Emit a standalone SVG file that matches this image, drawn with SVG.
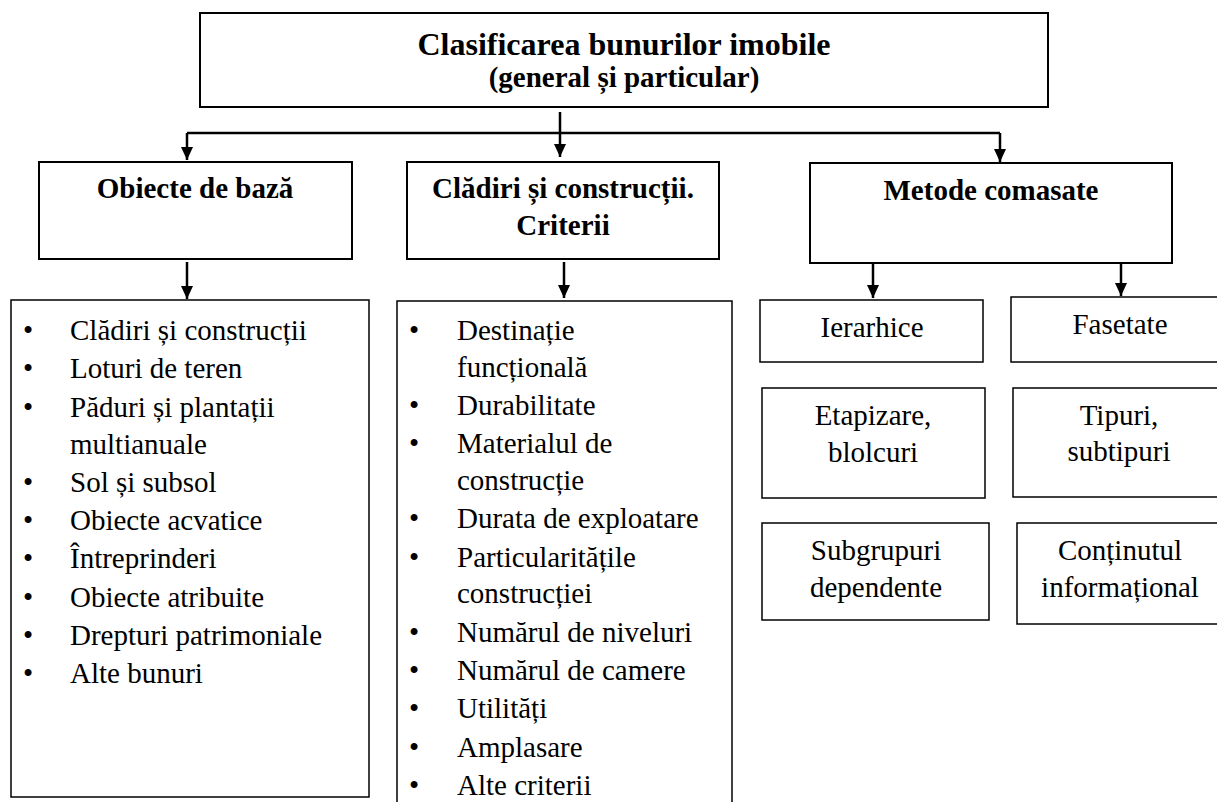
<svg xmlns="http://www.w3.org/2000/svg" width="1217" height="802" viewBox="0 0 1217 802">
<style>
  .box { fill: #fff; stroke: #000; stroke-width: 1.5; }
  .hbox { fill: #fff; stroke: #000; stroke-width: 2; }
  text { font-family: 'Liberation Serif', 'Times New Roman', Times, 'DejaVu Serif', serif; font-size: 29px; fill: #000; }
  .b { font-weight: bold; text-anchor: middle; }
  .c { text-anchor: middle; }
  .ln { stroke: #000; stroke-width: 2.5; fill: none; }
</style>
<defs>
  <marker id="ah" viewBox="0 0 13 12" refX="13" refY="6" markerWidth="13" markerHeight="12" markerUnits="userSpaceOnUse" orient="auto">
    <path d="M0,0 L13,6 L0,12 z" fill="#000"/>
  </marker>
</defs>
<rect width="1217" height="802" fill="#fff"/>

<g id="connectors">
  <line class="ln" x1="560" y1="112" x2="560" y2="157" marker-end="url(#ah)"/>
  <line class="ln" x1="187" y1="133" x2="1000" y2="133"/>
  <line class="ln" x1="187" y1="133" x2="187" y2="160" marker-end="url(#ah)"/>
  <line class="ln" x1="1000" y1="133" x2="1000" y2="162" marker-end="url(#ah)"/>
  <line class="ln" x1="187" y1="262" x2="187" y2="299" marker-end="url(#ah)"/>
  <line class="ln" x1="564" y1="262" x2="564" y2="298" marker-end="url(#ah)"/>
  <line class="ln" x1="873" y1="264" x2="873" y2="298" marker-end="url(#ah)"/>
  <line class="ln" x1="1121" y1="264" x2="1121" y2="296" marker-end="url(#ah)"/>
</g>

<g id="root">
  <rect class="hbox" x="200" y="13" width="848" height="94"/>
  <text class="b" x="624" y="55" style="font-size:32px">Clasificarea bunurilor imobile</text>
  <text class="b" x="624" y="87">(general și particular)</text>
</g>

<g id="obiecte">
  <rect class="hbox" x="39" y="162" width="313" height="97"/>
  <text class="b" x="195" y="198">Obiecte de bază</text>
</g>

<g id="cladiri">
  <rect class="hbox" x="407" y="162" width="312" height="97"/>
  <text class="b" x="563" y="198">Clădiri și construcții.</text>
  <text class="b" x="563" y="235">Criterii</text>
</g>

<g id="metode">
  <rect class="hbox" x="810" y="163" width="362" height="100"/>
  <text class="b" x="991" y="200">Metode comasate</text>
</g>

<g id="lista-obiecte">
  <rect class="box" x="11" y="300" width="358" height="497"/>
  <text x="23" y="340">•</text><text x="70" y="340">Clădiri și construcții</text>
  <text x="23" y="378">•</text><text x="70" y="378">Loturi de teren</text>
  <text x="23" y="417">•</text><text x="70" y="417">Păduri și plantații</text>
  <text x="70" y="454">multianuale</text>
  <text x="23" y="492">•</text><text x="70" y="492">Sol și subsol</text>
  <text x="23" y="530">•</text><text x="70" y="530">Obiecte acvatice</text>
  <text x="23" y="568">•</text><text x="70" y="568">Întreprinderi</text>
  <text x="23" y="607">•</text><text x="70" y="607">Obiecte atribuite</text>
  <text x="23" y="645">•</text><text x="70" y="645">Drepturi patrimoniale</text>
  <text x="23" y="683">•</text><text x="70" y="683">Alte bunuri</text>
</g>

<g id="lista-criterii">
  <rect class="box" x="397" y="301" width="335" height="510"/>
  <text x="409" y="340">•</text><text x="457" y="340">Destinație</text>
  <text x="457" y="377">funcțională</text>
  <text x="409" y="415">•</text><text x="457" y="415">Durabilitate</text>
  <text x="409" y="453">•</text><text x="457" y="453">Materialul de</text>
  <text x="457" y="490">construcție</text>
  <text x="409" y="528">•</text><text x="457" y="528">Durata de exploatare</text>
  <text x="409" y="567">•</text><text x="457" y="567">Particularitățile</text>
  <text x="457" y="603">construcției</text>
  <text x="409" y="642">•</text><text x="457" y="642">Numărul de niveluri</text>
  <text x="409" y="680">•</text><text x="457" y="680">Numărul de camere</text>
  <text x="409" y="718">•</text><text x="457" y="718">Utilități</text>
  <text x="409" y="757">•</text><text x="457" y="757">Amplasare</text>
  <text x="409" y="795">•</text><text x="457" y="795">Alte criterii</text>
</g>

<g id="ierarhice">
  <rect class="box" x="760" y="300" width="223" height="62"/>
  <text class="c" x="872" y="337">Ierarhice</text>
</g>
<g id="fasetate">
  <rect class="box" x="1011" y="297" width="220" height="65"/>
  <text class="c" x="1120" y="334">Fasetate</text>
</g>
<g id="etapizare">
  <rect class="box" x="762" y="388" width="223" height="110"/>
  <text class="c" x="873" y="425">Etapizare,</text>
  <text class="c" x="873" y="462">blolcuri</text>
</g>
<g id="tipuri">
  <rect class="box" x="1013" y="388" width="220" height="109"/>
  <text class="c" x="1119" y="425">Tipuri,</text>
  <text class="c" x="1119" y="461">subtipuri</text>
</g>
<g id="subgrupuri">
  <rect class="box" x="762" y="523" width="227" height="97"/>
  <text class="c" x="876" y="560">Subgrupuri</text>
  <text class="c" x="876" y="597">dependente</text>
</g>
<g id="continutul">
  <rect class="box" x="1017" y="523" width="220" height="101"/>
  <text class="c" x="1120" y="560">Conținutul</text>
  <text class="c" x="1120" y="597">informațional</text>
</g>
</svg>
